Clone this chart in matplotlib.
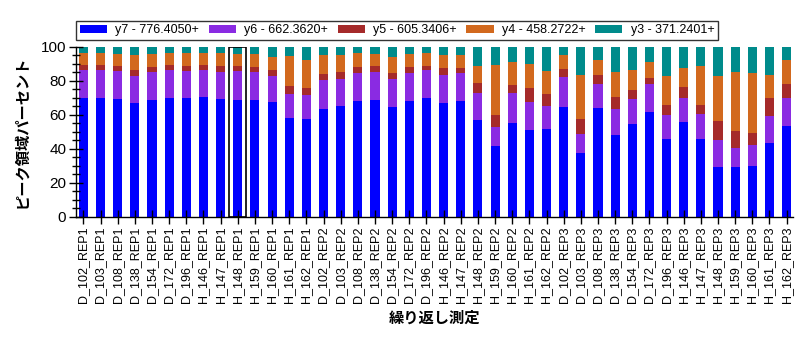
import numpy as np
import matplotlib
matplotlib.use("Agg")
import matplotlib.pyplot as plt
from matplotlib.patches import Rectangle
from matplotlib.ticker import MultipleLocator

plt.rcParams['font.family'] = ['Liberation Sans', 'Noto Sans CJK JP', 'DejaVu Sans']

samples = ["D_102", "D_103", "D_108", "D_138", "D_154", "D_172", "D_196",
           "H_146", "H_147", "H_148", "H_159", "H_160", "H_161", "H_162"]
reps = ["REP1", "REP2", "REP3"]
labels = [f"{s}_{r}" for r in reps for s in samples]

series_names = ["y7 - 776.4050+", "y6 - 662.3620+", "y5 - 605.3406+",
                "y4 - 458.2722+", "y3 - 371.2401+"]
series_colors = ["#0000FF", "#8A2BE2", "#A52A2A", "#D2691E", "#008B8B"]

# peak area percent per fragment ion, one value per measurement
y7 = [69.8, 69.8, 69.2, 66.9, 68.6, 69.8, 69.8, 70.4, 69.2, 68.6, 68.6, 67.5, 58.0, 57.5,
      63.3, 65.1, 68.0, 68.6, 64.5, 68.0, 69.8, 66.9, 68.0, 56.9, 41.6, 55.1, 51.0, 51.6,
      64.5, 37.5, 63.9, 48.0, 54.5, 61.6, 45.7, 55.7, 45.7, 29.2, 29.2, 29.8, 43.3, 53.3]
y6 = [16.7, 16.7, 16.5, 15.8, 16.5, 16.7, 15.9, 16.1, 15.9, 17.1, 16.5, 15.2, 14.5, 13.9,
      17.1, 15.9, 16.5, 16.5, 16.5, 16.5, 16.5, 16.4, 16.5, 15.8, 11.1, 17.6, 16.5, 13.5,
      17.7, 11.1, 14.1, 15.3, 14.7, 16.4, 14.1, 14.1, 14.7, 15.9, 11.2, 12.4, 15.9, 16.5]
y5 = [2.7, 2.7, 2.9, 3.6, 2.9, 2.7, 2.9, 2.7, 3.5, 2.9, 2.9, 3.6, 4.4, 4.1,
      3.5, 4.1, 3.5, 3.5, 3.5, 3.5, 2.3, 4.2, 3.0, 5.9, 7.1, 4.8, 8.2, 7.1,
      4.7, 8.9, 5.3, 7.1, 5.3, 3.6, 5.9, 6.5, 5.3, 11.2, 10.0, 7.0, 10.6, 8.2]
y4 = [7.1, 7.1, 7.3, 8.8, 7.9, 7.1, 7.7, 7.1, 7.7, 7.1, 7.7, 7.6, 17.6, 16.7,
      11.2, 10.0, 8.3, 7.1, 9.4, 7.7, 7.7, 7.6, 7.6, 10.0, 29.4, 13.5, 14.1, 13.5,
      8.2, 25.8, 8.9, 14.7, 11.8, 9.4, 17.0, 11.2, 22.9, 26.4, 34.7, 35.3, 13.5, 14.2]
y3 = [3.7, 3.7, 4.1, 4.9, 4.1, 3.7, 3.7, 3.7, 3.7, 4.3, 4.3, 6.1, 5.5, 7.8,
      4.9, 4.9, 3.7, 4.3, 6.1, 4.3, 3.7, 4.9, 4.9, 11.4, 10.8, 9.0, 10.2, 14.3,
      4.9, 16.7, 7.8, 14.9, 13.7, 9.0, 17.3, 12.5, 11.4, 17.3, 14.9, 15.5, 16.7, 7.8]

highlight = "H_148_REP1"

fig = plt.figure(figsize=(8.12, 3.39), dpi=100)
ax = fig.add_axes([0.0936, 0.360, 0.883, 0.502])

x = np.arange(len(labels))
bottom = np.zeros(len(labels))
handles = []
for vals, name, col in zip([y7, y6, y5, y4, y3], series_names, series_colors):
    vals = np.array(vals)
    h = ax.bar(x, vals, width=0.53, bottom=bottom, color=col, label=name, linewidth=0)
    handles.append(h)
    bottom += vals

# outline around the selected measurement
i = labels.index(highlight)
ax.add_patch(Rectangle((i - 0.5, 0), 1.0, 100, fill=False, edgecolor="black", lw=1.2, zorder=3))

ax.set_xlim(-0.43, len(labels) - 0.63)
ax.set_ylim(0, 100)
ax.set_xticks(x)
ax.set_xticklabels(labels, rotation=90, fontsize=9)
ax.yaxis.set_major_locator(MultipleLocator(20))
ax.yaxis.set_minor_locator(MultipleLocator(5))
ax.tick_params(axis='y', which='major', direction='inout', length=10, width=1, labelsize=11, pad=2)
ax.tick_params(axis='y', which='minor', direction='inout', length=6, width=1)
ax.tick_params(axis='x', which='major', direction='inout', length=10, width=1, pad=2)
for side in ("top", "right"):
    ax.spines[side].set_visible(False)
for side in ("left", "bottom"):
    ax.spines[side].set_linewidth(1)

ax.set_ylabel("ピーク領域パーセント", fontsize=11, fontweight="bold", labelpad=8)
ax.set_xlabel("繰り返し測定", fontsize=11, fontweight="bold", labelpad=6)

leg = fig.legend(handles=handles, labels=series_names, loc="lower left", ncol=5,
                 bbox_to_anchor=(0.0936, 0.882), fontsize=9, frameon=True, fancybox=False,
                 handlelength=2.2, handleheight=0.6, handletextpad=0.65, columnspacing=0.75,
                 borderpad=0.3, borderaxespad=0)
leg.get_frame().set_edgecolor("black")
leg.get_frame().set_linewidth(1)

fig.savefig("out.png", dpi=100)
